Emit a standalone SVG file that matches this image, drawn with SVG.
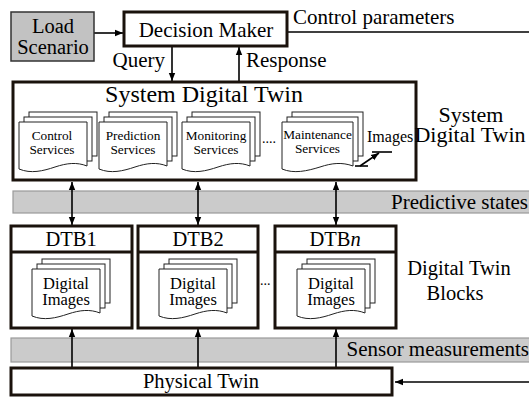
<svg xmlns="http://www.w3.org/2000/svg" width="529" height="400" viewBox="0 0 529 400">
  <style>
    .f { font-family: "Liberation Serif"; fill: #000; }
    .box { fill: #fff; stroke: #1a120c; stroke-width: 3; }
    .band { fill: #cbcbcb; stroke: #9a9a9a; stroke-width: 1.2; }
    .doc { fill: #fff; stroke: #222; stroke-width: 1; }
    .line { stroke: #000; stroke-width: 1.6; fill: none; }
    .t21 { font-size: 21px; }
    .t20 { font-size: 20.5px; }
    .svc { font-size: 13.3px; text-anchor: middle; }
    .img { font-size: 16.5px; text-anchor: middle; }
    .mid { text-anchor: middle; }
    .end { text-anchor: end; }
  </style>
  <defs>
    <marker id="arr" viewBox="0 0 10 10" refX="10" refY="5" markerWidth="8" markerHeight="8" markerUnits="userSpaceOnUse" orient="auto-start-reverse">
      <path d="M0,1 L10,5 L0,9 Z" fill="#000"/>
    </marker>
    <!-- stack of three pages with a wavy bottom on the front one -->
    <g id="stack">
      <rect class="doc" x="10" y="-10" width="68" height="44"/>
      <rect class="doc" x="5" y="-5" width="68" height="44"/>
      <path class="doc" d="M0,0 H68 V44 C58,40 48,41 36,45 C24,49 12,52 0,47 Z"/>
    </g>
    <g id="stackWide">
      <rect class="doc" x="10" y="-10" width="71" height="44"/>
      <rect class="doc" x="5" y="-5" width="71" height="44"/>
      <path class="doc" d="M0,0 H71 V44 C60,40 50,41 38,45 C25,49 12,52 0,47 Z"/>
    </g>
  </defs>

  <!-- bands -->
  <g id="predictive-states">
    <rect class="band" x="13" y="191" width="520" height="22"/>
    <text class="f t21 end" x="528" y="209">Predictive states</text>
  </g>
  <g id="sensor-measurements">
    <rect class="band" x="11" y="338" width="522" height="24"/>
    <text class="f t21 end" x="529" y="356">Sensor measurements</text>
  </g>

  <!-- connectors -->
  <g id="connectors">
    <line class="line" x1="94" y1="33" x2="123" y2="33" marker-end="url(#arr)"/>
    <line class="line" x1="288" y1="32" x2="529" y2="32"/>
    <line class="line" x1="172" y1="47" x2="172" y2="81" marker-end="url(#arr)"/>
    <line class="line" x1="239" y1="81" x2="239" y2="47" marker-end="url(#arr)"/>
    <line class="line" x1="72" y1="182" x2="72" y2="225" marker-start="url(#arr)" marker-end="url(#arr)"/>
    <line class="line" x1="198" y1="182" x2="198" y2="225" marker-start="url(#arr)" marker-end="url(#arr)"/>
    <line class="line" x1="336" y1="182" x2="336" y2="225" marker-start="url(#arr)" marker-end="url(#arr)"/>
    <line class="line" x1="72" y1="367" x2="72" y2="329" marker-end="url(#arr)"/>
    <line class="line" x1="198" y1="367" x2="198" y2="329" marker-end="url(#arr)"/>
    <line class="line" x1="336" y1="367" x2="336" y2="329" marker-end="url(#arr)"/>
    <line class="line" x1="529" y1="382" x2="395" y2="382" marker-end="url(#arr)"/>
  </g>

  <!-- top row -->
  <g id="load-scenario">
    <rect x="11" y="12" width="83" height="49" fill="#c2c2c2" stroke="#333" stroke-width="1.5"/>
    <text class="f t20 mid" x="53" y="33">Load</text>
    <text class="f t20 mid" x="53" y="54">Scenario</text>
  </g>
  <g id="decision-maker">
    <rect class="box" x="124" y="12" width="163" height="34"/>
    <text class="f t21 mid" x="206" y="37">Decision Maker</text>
  </g>
  <text class="f t21" x="293" y="24">Control parameters</text>
  <text class="f t21 end" x="165" y="67">Query</text>
  <text class="f t21" x="246" y="67">Response</text>

  <!-- system digital twin -->
  <g id="system-digital-twin">
    <rect class="box" x="13" y="82" width="403" height="98" stroke-width="3.5"/>
    <text class="f mid" x="204" y="102" font-size="24">System Digital Twin</text>
    <use href="#stack" x="19" y="122"/>
    <text class="f svc" x="52" y="140">Control</text>
    <text class="f svc" x="52" y="154">Services</text>
    <use href="#stack" x="99" y="122"/>
    <text class="f svc" x="133" y="140">Prediction</text>
    <text class="f svc" x="133" y="154">Services</text>
    <use href="#stack" x="182" y="122"/>
    <text class="f svc" x="216" y="140">Monitoring</text>
    <text class="f svc" x="216" y="154">Services</text>
    <text class="f" font-size="14" x="262" y="143">....</text>
    <use href="#stackWide" x="282" y="122"/>
    <text class="f svc" x="317.5" y="139">Maintenance</text>
    <text class="f svc" x="317.5" y="153">Services</text>
    <text class="f" font-size="16" x="367" y="142">Images</text>
    <path class="line" d="M355,166 H368" stroke-width="1.3"/>
    <line class="line" x1="360" y1="166" x2="379" y2="153" stroke-width="1.3" marker-end="url(#arr)"/>
    <path class="line" d="M372,152 H392" stroke-width="1.3"/>
  </g>
  <g id="sdt-label">
    <text class="f mid" font-size="22" x="471" y="122">System</text>
    <text class="f mid" font-size="22" x="470" y="142">Digital Twin</text>
  </g>

  <!-- digital twin blocks -->
  <g id="dtb1">
    <rect class="box" x="11" y="226" width="121" height="102"/>
    <line x1="11" y1="252" x2="132" y2="252" stroke="#1a120c" stroke-width="3"/>
    <text class="f t20 mid" x="71" y="246">DTB1</text>
    <use href="#stack" x="32" y="269"/>
    <text class="f img" x="66" y="289">Digital</text>
    <text class="f img" x="66" y="305">Images</text>
  </g>
  <g id="dtb2">
    <rect class="box" x="138" y="226" width="120" height="102"/>
    <line x1="138" y1="252" x2="258" y2="252" stroke="#1a120c" stroke-width="3"/>
    <text class="f t20 mid" x="198" y="246">DTB2</text>
    <use href="#stack" x="159" y="269"/>
    <text class="f img" x="193" y="289">Digital</text>
    <text class="f img" x="193" y="305">Images</text>
  </g>
  <text class="f" font-size="14" x="260" y="285">...</text>
  <g id="dtbn">
    <rect class="box" x="275" y="226" width="121" height="102"/>
    <line x1="275" y1="252" x2="396" y2="252" stroke="#1a120c" stroke-width="3"/>
    <text class="f t20 mid" x="335" y="246">DTB<tspan font-style="italic">n</tspan></text>
    <use href="#stack" x="297" y="269"/>
    <text class="f img" x="331" y="289">Digital</text>
    <text class="f img" x="331" y="305">Images</text>
  </g>
  <g id="dtb-label">
    <text class="f mid" font-size="20.5" x="459" y="275">Digital Twin</text>
    <text class="f mid" font-size="20.5" x="455" y="300">Blocks</text>
  </g>

  <!-- physical twin -->
  <g id="physical-twin">
    <rect class="box" x="11" y="368" width="381" height="27"/>
    <text class="f t20 mid" x="201" y="388">Physical Twin</text>
  </g>
</svg>
